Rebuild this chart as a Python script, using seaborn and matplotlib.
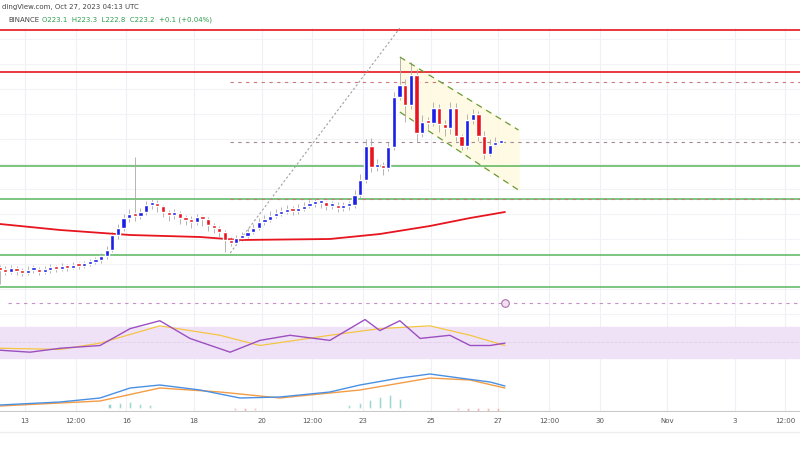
import numpy as np
import pandas as pd
import matplotlib
matplotlib.use("Agg")
import matplotlib.pyplot as plt
import seaborn as sns

# 4h candles, index 1..90 (day = 12 + (i+0.5)/6)
closes = [210.4, 210.2, 210.6, 210.3, 210.1, 210.4, 210.5, 210.2, 210.4, 210.7, 210.5, 210.8, 210.6, 210.9, 210.8, 211.0, 211.2, 211.4,
          211.8, 212.4, 213.9, 214.6, 215.6,
          216.0, 215.8, 216.2, 216.9, 217.1, 216.8, 216.2, 215.9, 216.1, 215.6, 215.4, 215.2, 215.7, 215.5, 214.9, 214.6, 214.2,
          213.4, 213.1, 213.6, 213.8, 214.2, 214.6,
          215.2, 215.4, 215.8, 216.0, 216.2, 216.4, 216.3, 216.5, 216.8, 217.0, 217.1, 217.2, 216.8, 216.9, 216.6, 216.8,
          216.9, 217.9, 219.4, 222.8, 220.7, 220.8, 220.6, 222.7, 227.7, 228.9,
          226.9, 229.9, 224.1, 225.2, 225.1, 226.6, 225.0, 224.6, 226.6, 223.8, 222.8, 225.4, 226.0, 223.8, 222.0, 222.9, 223.1, 223.2]
highs = [210.9, 210.8, 210.9, 210.8, 210.6, 210.8, 210.9, 210.7, 210.8, 211.0, 210.9, 211.1, 211.0, 211.2, 211.2, 211.3, 211.5, 211.7,
         212.1, 212.8, 214.2, 215.0, 216.0,
         216.5, 221.7, 216.6, 217.3, 217.6, 217.4, 216.9, 216.4, 216.5, 216.3, 215.9, 215.8, 216.0, 215.9, 215.7, 215.1, 214.8,
         214.4, 213.7, 213.9, 214.2, 214.6, 215.0,
         215.6, 215.9, 216.3, 216.5, 216.7, 216.9, 216.8, 217.0, 217.2, 217.4, 217.5, 217.6, 217.3, 217.3, 217.2, 217.2,
         217.3, 218.4, 220.0, 223.5, 223.6, 221.5, 221.2, 223.2, 228.2, 231.7,
         229.5, 231.2, 230.5, 225.9, 225.7, 227.2, 227.0, 225.4, 227.2, 227.1, 224.0, 226.0, 226.5, 226.3, 224.3, 223.5, 223.7, 223.3]
lows = [209.0, 209.9, 210.0, 209.9, 209.8, 209.9, 210.1, 209.9, 210.0, 210.1, 210.2, 210.3, 210.3, 210.5, 210.5, 210.6, 210.8, 211.0,
        211.1, 211.5, 212.2, 213.5, 214.3,
        215.2, 215.3, 215.5, 215.9, 216.5, 216.2, 215.7, 215.3, 215.5, 215.0, 214.9, 214.6, 214.9, 214.8, 214.3, 214.1, 213.7,
        212.2, 212.8, 212.9, 213.3, 213.6, 214.0,
        214.4, 214.9, 215.2, 215.6, 215.8, 216.0, 215.9, 216.0, 216.3, 216.6, 216.7, 216.6, 216.4, 216.5, 216.2, 216.3,
        216.4, 216.6, 217.6, 219.1, 220.2, 220.3, 219.9, 220.3, 222.4, 227.4,
        225.2, 226.5, 223.2, 223.7, 224.5, 224.8, 224.2, 223.8, 224.0, 223.3, 222.4, 222.5, 225.0, 223.3, 221.5, 221.8, 222.8, 223.1]
first_open = 210.5

ma_days = [12.26, 14.04, 16.11, 18.18, 19.36, 22.02, 23.5, 24.98, 26.17, 27.2]
ma_vals = [215.0, 214.4, 213.9, 213.7, 213.4, 213.5, 214.0, 214.8, 215.6, 216.2]

green_levels = [220.8, 217.5, 211.9, 208.7]
red_levels = [234.4, 230.2]
dashed_levels = [229.2, 223.2, 217.5]
pink_level = 207.1
trend_line = ([19.07, 24.09], [212.1, 234.6])
channel_upper = ([24.09, 27.6], [231.7, 224.4])
channel_lower = ([24.09, 27.6], [226.2, 218.4])

rsi_days = [12.26, 13.15, 14.04, 15.22, 16.11, 16.99, 17.88, 19.07, 19.95, 20.84, 22.02, 23.06, 23.5, 24.09, 24.69, 25.57, 26.17, 26.76, 27.2]
rsi_vals = [40, 37.5, 42.5, 46, 67.5, 77.5, 55, 37.5, 52.5, 59, 52.5, 79, 65, 77.5, 55, 59, 46, 46, 49]
rsi_ma_days = [12.26, 14.04, 15.22, 16.99, 18.77, 19.95, 22.02, 23.5, 24.98, 26.17, 27.2]
rsi_ma_vals = [42.5, 41, 49, 71, 59, 46, 59, 67.5, 71, 59, 46]

macd_days = [12.26, 14.04, 15.22, 16.11, 16.99, 18.18, 19.36, 20.54, 22.02, 22.91, 24.09, 24.98, 25.86, 26.76, 27.2]
macd_vals = [0.3, 0.6, 1.0, 2.0, 2.3, 1.8, 1.0, 1.1, 1.6, 2.3, 3.0, 3.4, 3.0, 2.6, 2.2]
signal_days = [12.26, 15.22, 16.99, 18.77, 20.54, 22.91, 24.98, 26.17, 27.2]
signal_vals = [0.2, 0.7, 2.0, 1.6, 1.0, 1.8, 3.0, 2.8, 2.0]
hist_days = [15.5, 15.8, 16.1, 16.4, 16.7, 19.2, 19.5, 19.8, 22.6, 22.9, 23.2, 23.5, 23.8, 24.1, 25.8, 26.1, 26.4, 26.7, 27.0]
hist_vals = [0.4, 0.5, 0.6, 0.4, 0.3, -0.2, -0.3, -0.2, 0.3, 0.5, 0.8, 1.1, 1.3, 0.9, -0.2, -0.3, -0.4, -0.3, -0.4]

tick_days = [13, 14.5, 16, 18, 20, 21.5, 23, 25, 27, 28.5, 30, 32, 34, 35.5]
tick_labels = ["13", "12:00", "16", "18", "20", "12:00", "23", "25", "27", "12:00", "30", "Nov", "3", "12:00"]

BLUE, RED, GREEN = "#1a1fe8", "#e8141e", "#4caf50"
XL = (12.26, 35.93)

sns.set_theme(style="white")
fig = plt.figure(figsize=(8, 4.5), dpi=100)
ax = fig.add_axes([0, 132 / 450, 1, 290 / 450])
ax_r = fig.add_axes([0, 88 / 450, 1, 44 / 450], sharex=ax)
ax_m = fig.add_axes([0, 38 / 450, 1, 50 / 450], sharex=ax)

for a in (ax, ax_r, ax_m):
    for t in tick_days:
        a.axvline(t, color="#eef0f5", lw=0.8, zorder=0)
    a.set_xlim(*XL)
    a.tick_params(left=False, labelleft=False, bottom=False, labelbottom=False)
    for s in a.spines.values():
        s.set_visible(False)
for lev in np.arange(206, 235, 2.5):
    ax.axhline(lev, color="#f2f3f7", lw=0.8, zorder=0)

df = pd.DataFrame({"close": closes, "high": highs, "low": lows})
df["open"] = [first_open] + closes[:-1]
df["day"] = 12 + (np.arange(1, len(closes) + 1) + 0.5) / 6
col = np.where(df["close"] >= df["open"], BLUE, RED)
ax.vlines(df["day"], df["low"], df["high"], colors="#a8a8a8", lw=0.6, zorder=2)
body = (df["close"] - df["open"]).abs().clip(lower=0.3)
ax.bar(df["day"], body, bottom=df[["open", "close"]].min(axis=1), width=0.125, color=col, zorder=3)

for lev in red_levels:
    ax.axhline(lev, color=RED, lw=1.2, zorder=1)
for lev in green_levels:
    ax.axhline(lev, color=GREEN, lw=1.2, alpha=0.85, zorder=1)
for lev in dashed_levels:
    ax.plot([19.07, XL[1]], [lev, lev], ls=(0, (3, 4)), color="#c77d80" if lev != 223.2 else "#a08a90", lw=0.8, zorder=1)
ax.plot([12.5, XL[1]], [pink_level, pink_level], ls=(0, (3, 4)), color="#c890c8", lw=0.8)
ax.plot(*trend_line, ls=(0, (2, 2)), color="#a0a0a0", lw=0.8)
ax.fill_between(channel_upper[0], channel_lower[1], channel_upper[1], color="#fffae0", alpha=0.9, zorder=0.5)
ax.plot(*channel_upper, ls=(0, (5, 4)), color="#6a9a3a", lw=0.9)
ax.plot(*channel_lower, ls=(0, (5, 4)), color="#6a9a3a", lw=0.9)
sns.lineplot(x=ma_days, y=ma_vals, ax=ax, color=RED, lw=1.3)
ax.scatter([27.2], [pink_level], s=30, facecolor="#f0e0f0", edgecolor="#b070b0", lw=0.8, zorder=5)
ax.set_ylim(205.6, 234.6)

ax_r.axhspan(30, 70, color="#efe2f7", zorder=0)
ax_r.axhline(50, color="#e0d0ea", lw=0.6, ls="--")
sns.lineplot(x=rsi_ma_days, y=rsi_ma_vals, ax=ax_r, color="#f5c542", lw=0.9)
sns.lineplot(x=rsi_days, y=rsi_vals, ax=ax_r, color="#9c4fc0", lw=1.0)
ax_r.set_ylim(25, 81)

ax_m.bar(hist_days, hist_vals, width=0.06, color=["#26a69a" if v > 0 else "#ef5350" for v in hist_vals], alpha=0.6)
sns.lineplot(x=signal_days, y=signal_vals, ax=ax_m, color="#f39c46", lw=1.0)
sns.lineplot(x=macd_days, y=macd_vals, ax=ax_m, color="#4a90e2", lw=1.0)
ax_m.set_ylim(-0.4, 4.6)
ax_m.axhline(-0.4, color="#c8c8c8", lw=1.5)
for a in (ax, ax_r, ax_m):
    a.set_xlabel("")
    a.set_ylabel("")

for t, lab in zip(tick_days, tick_labels):
    fig.text((t - XL[0]) / (XL[1] - XL[0]), 1 - 421 / 450, lab, ha="center", va="center", fontsize=5, color="#555")
fig.text(0.002, 1 - 7 / 450, "dingView.com, Oct 27, 2023 04:13 UTC", fontsize=5, color="#444", va="center")
fig.text(0.01, 1 - 20 / 450, "BINANCE", fontsize=5, color="#444", va="center")
fig.text(0.052, 1 - 20 / 450, "O223.1  H223.3  L222.8  C223.2  +0.1 (+0.04%)", fontsize=5, color="#2e9e4e", va="center")
fig.add_artist(plt.Line2D([0, 1], [1 - 432 / 450] * 2, color="#eeeeee", lw=1))

fig.savefig("out.png", dpi=100)
